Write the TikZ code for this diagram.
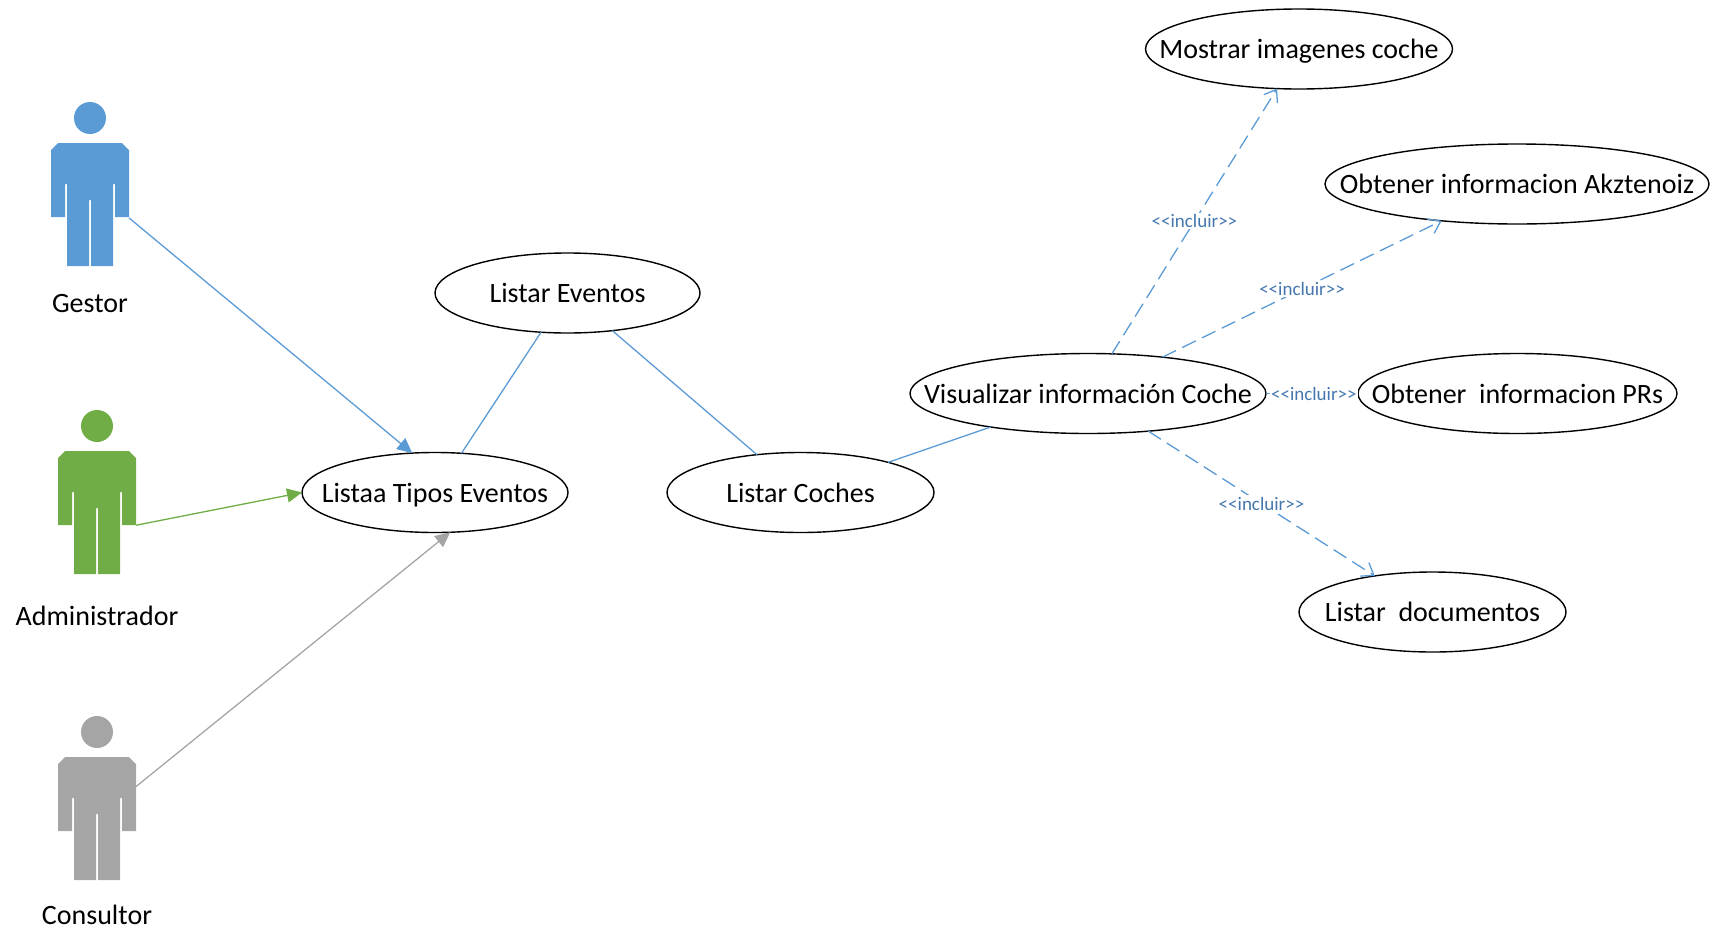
\documentclass[tikz,border=0pt]{standalone}
\usepackage{fontspec}
\setmainfont{Carlito}
\usetikzlibrary{shapes.geometric,arrows.meta}
\definecolor{ablue}{HTML}{5B9BD5}
\definecolor{agreen}{HTML}{70AD47}
\definecolor{agrey}{HTML}{A5A5A5}
\definecolor{lblue}{HTML}{4577AE}
\newcommand{\uclabel}[1]{\makebox[0pt]{\raisebox{-9.5pt}[0pt][0pt]{#1}}}
\newcommand{\inctext}{{<}{<}incluir{>}{>}}
\tikzset{
  usecase/.style={ellipse,draw=black,line width=1.4pt,fill=white,inner sep=0pt,outer sep=0pt,font=\fontsize{28}{32}\selectfont,minimum width=#1,minimum height=80pt},
  actorbox/.style={rectangle,inner sep=0pt,outer sep=0pt,minimum width=78pt,minimum height=165pt},
  actorlabel/.style={font=\fontsize{28}{32}\selectfont,text=black,inner sep=0pt},
  assoc/.style={line width=1.3pt,draw=#1,-{Triangle[length=15pt,width=14pt,fill=#1]}},
  plainlink/.style={line width=1.3pt,draw=ablue},
  includes/.style={line width=1.3pt,draw=ablue,dash pattern=on 15pt off 7pt,-{Straight Barb[length=11pt,width=16pt,line width=1.3pt]}},
  inclabel/.style={font=\fontsize{19}{22}\selectfont,text=lblue,fill=white,inner sep=1.5pt}
}
\newcommand{\drawactor}[3]{%
  \begin{scope}[shift={#2}]
    \fill[#3] (0,-25) circle (16);
    \fill[#3] (-32,0) -- (32,0) -- (39,7) -- (39,74) -- (25,74) -- (25,41) -- (23,41) -- (23,123) -- (1,123) -- (1,57) -- (-1,57) -- (-1,123) -- (-23,123) -- (-23,41) -- (-25,41) -- (-25,74) -- (-39,74) -- (-39,7) -- cycle;
  \end{scope}}
\begin{document}
\begin{tikzpicture}[x=1pt,y=-1pt]
\useasboundingbox (0,0) rectangle (1713,929);
% actors
\node[actorbox] (gestor) at (90,184) {};
\node[actorbox] (admin) at (97,492.5) {};
\node[actorbox] (consultor) at (97,798.5) {};
\drawactor{gestor}{(90,143)}{ablue}
\drawactor{admin}{(97,451)}{agreen}
\drawactor{consultor}{(97,757)}{agrey}
\node[actorlabel] (lgestor) at (90,304) {Gestor};
\node[actorlabel] (ladmin) at (97,616) {Administrador};
\node[actorlabel] (lconsultor) at (97,915) {Consultor};
% use cases
\node[usecase=266pt] (tipos) at (435,492.5) {\uclabel{Listaa Tipos Eventos}};
\node[usecase=265pt] (eventos) at (567.5,293) {\uclabel{Listar Eventos}};
\node[usecase=267pt] (coches) at (800.5,492.5) {\uclabel{Listar Coches}};
\node[usecase=356pt] (visual) at (1088,393.5) {\uclabel{Visualizar información Coche}};
\node[usecase=307pt] (imagenes) at (1299,49) {\uclabel{Mostrar imagenes coche}};
\node[usecase=384pt] (akz) at (1517,184) {\uclabel{Obtener informacion Akztenoiz}};
\node[usecase=319pt] (prs) at (1517.5,393.5) {\uclabel{Obtener\ \ informacion PRs}};
\node[usecase=267pt] (docs) at (1432.5,612) {\uclabel{Listar\ \ documentos}};
% connectors
\draw[assoc=ablue] (gestor.-41.1) -- (tipos.120.4);
\draw[assoc=agreen] (admin.-40.7) -- (tipos.180);
\draw[assoc=agrey] (consultor.17.8) -- (tipos.291.6);
\draw[plainlink] (tipos.56.3) -- (eventos.236.5);
\draw[plainlink] (eventos.-40.5) -- (coches.139.1);
\draw[plainlink] (coches.19.2) -- (visual.199.5);
\draw[includes] (visual.59.3) -- node[inclabel,pos=.5] (i1) {\inctext} (imagenes.241);
\draw[includes] (visual.26.6) -- node[inclabel,pos=.5] (i2) {\inctext} (akz.206.9);
\draw[includes] (visual.0) -- node[inclabel,pos=.52] (i3) {\inctext} (prs.180);
\draw[includes] (visual.-32.4) -- node[inclabel,pos=.5] (i4) {\inctext} (docs.148.7);
\end{tikzpicture}
\end{document}
